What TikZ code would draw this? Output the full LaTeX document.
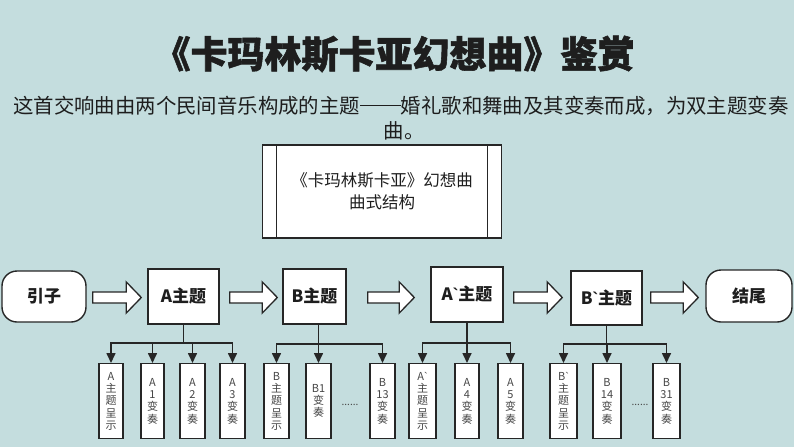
\documentclass[tikz,border=0pt]{standalone}
\usepackage{fontspec}
\setmainfont{Noto Sans CJK SC}[Ligatures=TeXOff]
\newfontfamily\titlefont{Noto Sans CJK SC}[Ligatures=TeXOff, BoldFeatures={FakeBold=1.5}]
\newfontfamily\latinfont{Liberation Sans}[Ligatures=TeXOff]
\usetikzlibrary{calc,arrows.meta}
\definecolor{bg}{RGB}{196,221,222}
\definecolor{ink}{RGB}{30,30,30}
\definecolor{lin}{RGB}{38,38,38}
\definecolor{soft}{RGB}{70,70,70}
\newcommand\gravemark{{\latinfont\char96}}
\newcommand\twodash{\raisebox{0.36em}{\rule{2em}{0.06em}}}
\tikzset{
  mainbox/.style={draw=lin, line width=1.4pt, fill=white, inner sep=0pt,
    font=\bfseries\fontsize{17}{20}\selectfont, text=ink},
  termbox/.style={mainbox, rounded corners=15pt},
  procbox/.style={draw=lin, line width=1.4pt, fill=white, inner sep=0pt, align=center,
    minimum width=239pt, minimum height=93pt, font=\fontsize{16.5}{22}\selectfont, text=ink},
  subbox/.style={draw=lin, line width=1.4pt, fill=white, inner sep=0pt, anchor=north,
    minimum height=75pt, align=center, font=\fontsize{11}{12.2}\selectfont, text=soft},
  barrow/.style={draw=lin, line width=1.3pt, fill=white, line join=miter},
  conn/.style={draw=lin, line width=1.6pt},
  connarr/.style={draw=lin, line width=1.6pt, -{Triangle[width=9pt,length=10pt]}},
  dotsnode/.style={font=\fontsize{10}{12}\selectfont, text=soft},
}
\newcommand\blockarr[4]{%
  \path (#1.east |- row) ++(#3,0) coordinate (bs)
        ($(row -| #2.west)+(-#4,0)$) coordinate (be);
  \draw[barrow] ($(bs)+(0,-5.5)$) -- ($(be)+(-15,-5.5)$) -- ($(be)+(-15,-15.5)$) -- (be)
     -- ($(be)+(-15,15.5)$) -- ($(be)+(-15,5.5)$) -- ($(bs)+(0,5.5)$) -- cycle;}
\begin{document}
\begin{tikzpicture}[x=1pt,y=-1pt]
\fill[bg] (0,0) rectangle (794,447);
\useasboundingbox (0,0) rectangle (794,447);

% title and text
\node[font=\titlefont\bfseries\fontsize{37}{40}\selectfont, text=ink] (title) at (394,54) {《卡玛林斯卡亚幻想曲》鉴赏};
\node[anchor=west, inner sep=0pt, font=\fontsize{20.4}{24}\selectfont, text=ink] (intro1) at (13,106)
  {这首交响曲由两个民间音乐构成的主题\twodash 婚礼歌和舞曲及其变奏而成，为双主题变奏};
\node[inner sep=0pt, font=\fontsize{20.4}{24}\selectfont, text=ink] (intro2) at (404,131) {曲。};

% structure box
\node[procbox] (proc) at (382,191.5) {《卡玛林斯卡亚》幻想曲\\曲式结构};
\draw[draw=lin, line width=1.4pt] ($(proc.north west)+(14.5,0)$) -- ($(proc.south west)+(14.5,0)$);
\draw[draw=lin, line width=1.4pt] ($(proc.north east)+(-14.5,0)$) -- ($(proc.south east)+(-14.5,0)$);

% main row
\coordinate (row) at (0,297.5);
\node[termbox, minimum width=84pt, minimum height=51pt] (yz) at (44,296.5) {引子};
\node[mainbox, minimum width=71pt, minimum height=55pt] (A) at (183.5,296.5) {A主题};
\node[mainbox, minimum width=63pt, minimum height=55pt] (B) at (314.5,296.5) {B主题};
\node[mainbox, minimum width=72pt, minimum height=55pt] (Ap) at (467,294.5) {A\gravemark 主题};
\node[mainbox, minimum width=71pt, minimum height=54pt] (Bp) at (606.5,298) {B\gravemark 主题};
\node[termbox, minimum width=86pt, minimum height=52pt] (fin) at (749,296) {结尾};

\blockarr{yz}{A}{6}{6}
\blockarr{A}{B}{10}{5}
\blockarr{B}{Ap}{21}{16}
\blockarr{Ap}{Bp}{10}{8}
\blockarr{Bp}{fin}{8}{7}

% sub boxes
\node[subbox, minimum width=24pt] (a1) at (111,363) {A\\主\\题\\呈\\示};
\node[subbox, minimum width=23pt] (a2) at (152.5,363) {A\\1\\变\\奏};
\node[subbox, minimum width=25pt] (a3) at (192.5,363) {A\\2\\变\\奏};
\node[subbox, minimum width=25pt] (a4) at (232.5,363) {A\\3\\变\\奏};

\node[subbox, minimum width=25pt] (b1) at (276.5,363) {B\\主\\题\\呈\\示};
\node[subbox, minimum width=25pt] (b2) at (318.5,363) {B1\\变\\奏};
\node[subbox, minimum width=25pt] (b3) at (382.5,363) {B\\13\\变\\奏};
\node[dotsnode] (bd) at (350,405) {......};

\node[subbox, minimum width=27pt] (c1) at (422.5,363) {A\gravemark\\主\\题\\呈\\示};
\node[subbox, minimum width=24pt] (c2) at (467,363) {A\\4\\变\\奏};
\node[subbox, minimum width=25pt] (c3) at (510.5,363) {A\\5\\变\\奏};

\node[subbox, minimum width=27pt] (d1) at (563.5,363) {B\gravemark\\主\\题\\呈\\示};
\node[subbox, minimum width=28pt] (d2) at (607,363) {B\\14\\变\\奏};
\node[subbox, minimum width=27pt] (d3) at (666.5,363) {B\\31\\变\\奏};
\node[dotsnode] (dd) at (640,405) {......};

% tree connectors
\coordinate (jA) at (0,343);
\coordinate (jB) at (0,344);
\coordinate (jC) at (0,343);
\coordinate (jD) at (0,344);

\draw[conn] (A.south) -- (A.south |- jA);
\draw[conn, line cap=rect] (a1.north |- jA) -- (a4.north |- jA);
\foreach \n in {a1,a2,a3,a4} \draw[connarr] (\n.north |- jA) -- (\n.north);

\draw[conn] (B.south -| b2.north) -- (b2.north |- jB);
\draw[conn, line cap=rect] (b1.north |- jB) -- (b3.north |- jB);
\foreach \n in {b1,b2,b3} \draw[connarr] (\n.north |- jB) -- (\n.north);

\draw[conn] (Ap.south) -- (Ap.south |- jC);
\draw[conn, line cap=rect] (c1.north |- jC) -- (c3.north |- jC);
\foreach \n in {c1,c2,c3} \draw[connarr] (\n.north |- jC) -- (\n.north);

\draw[conn] (Bp.south) -- (Bp.south |- jD);
\draw[conn, line cap=rect] (d1.north |- jD) -- (d3.north |- jD);
\foreach \n in {d1,d2,d3} \draw[connarr] (\n.north |- jD) -- (\n.north);
\end{tikzpicture}
\end{document}
